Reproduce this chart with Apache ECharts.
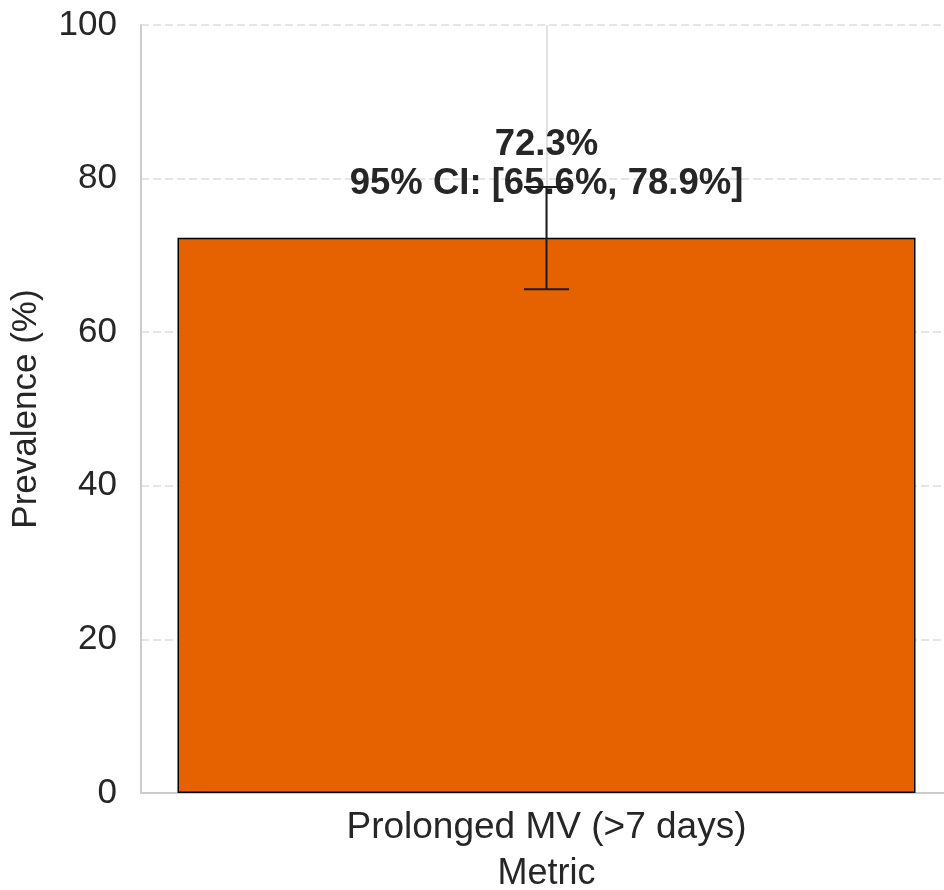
<!DOCTYPE html>
<html>
<head>
<meta charset="utf-8">
<script src="https://cdn.jsdelivr.net/npm/echarts@6/dist/echarts.min.js"></script>
<style>html,body{margin:0;padding:0;background:#fff}#c{width:944px;height:890px}</style>
</head>
<body>
<div id="c"></div>
<script>
const categories = ['Prolonged MV (>7 days)'];
const prevalence = [72.3];
const ciLow = [65.6];
const ciHigh = [78.9];
const yTicks = [0, 20, 40, 60, 80, 100];

const textColor = '#262626';
const font = 'Liberation Sans, Arial, Helvetica, sans-serif';

const chart = echarts.init(document.getElementById('c'), null, {renderer: 'canvas'});
chart.setOption({
  animation: false,
  backgroundColor: '#ffffff',
  grid: {left: 141, right: -8, top: 25, bottom: 97, containLabel: false, outerBoundsMode: 'none'},
  xAxis: {
    type: 'category',
    data: categories,
    name: 'Metric',
    nameLocation: 'middle',
    nameGap: 63,
    nameTextStyle: {color: textColor, fontSize: 36, fontFamily: font},
    axisLine: {show: true, lineStyle: {color: '#cccccc', width: 2}},
    axisTick: {show: false},
    axisLabel: {color: textColor, fontSize: 37, fontFamily: font, margin: 16},
    splitLine: {show: false}
  },
  yAxis: {
    type: 'value',
    min: yTicks[0],
    max: yTicks[yTicks.length - 1],
    interval: 20,
    name: 'Prevalence (%)',
    nameLocation: 'middle',
    nameGap: 97,
    nameTextStyle: {color: textColor, fontSize: 35, fontFamily: font},
    axisLine: {show: true, lineStyle: {color: '#cccccc', width: 2}},
    axisTick: {show: false},
    axisLabel: {color: textColor, fontSize: 35, fontFamily: font, margin: 24},
    splitLine: {show: true, lineStyle: {color: '#dddddd', width: 1.5, type: [8, 4]}}
  },
  series: [
    {
      type: 'bar',
      data: prevalence,
      barWidth: '91%',
      z: 2,
      itemStyle: {color: '#e66100', borderColor: '#000000', borderWidth: 1.5},
      label: {
        show: true,
        position: 'top',
        distance: 35,
        color: textColor,
        fontSize: 36.5,
        fontWeight: 'bold',
        fontFamily: font,
        lineHeight: 38.5,
        align: 'center',
        formatter: function (p) {
          const i = p.dataIndex;
          return prevalence[i] + '%\n95% CI: [' + ciLow[i] + '%, ' + ciHigh[i] + '%]';
        }
      },
      markLine: {
        silent: true,
        z: 1,
        symbol: 'none',
        label: {show: false},
        lineStyle: {color: '#d9d9d9', width: 1.5, type: 'solid'},
        data: [{xAxis: 0}]
      }
    },
    {
      type: 'custom',
      z: 3,
      data: categories.map((c, i) => [i, ciLow[i], ciHigh[i]]),
      renderItem: function (params, api) {
        const x = api.value(0);
        const lo = api.coord([x, api.value(1)]);
        const hi = api.coord([x, api.value(2)]);
        const cap = 22.5;
        const st = {stroke: '#1a1a1a', lineWidth: 2};
        return {
          type: 'group',
          children: [
            {type: 'line', shape: {x1: lo[0], y1: lo[1], x2: hi[0], y2: hi[1]}, style: st},
            {type: 'line', shape: {x1: lo[0] - cap, y1: lo[1], x2: lo[0] + cap, y2: lo[1]}, style: st},
            {type: 'line', shape: {x1: hi[0] - cap, y1: hi[1], x2: hi[0] + cap, y2: hi[1]}, style: st}
          ]
        };
      }
    }
  ]
});
</script>
</body>
</html>
